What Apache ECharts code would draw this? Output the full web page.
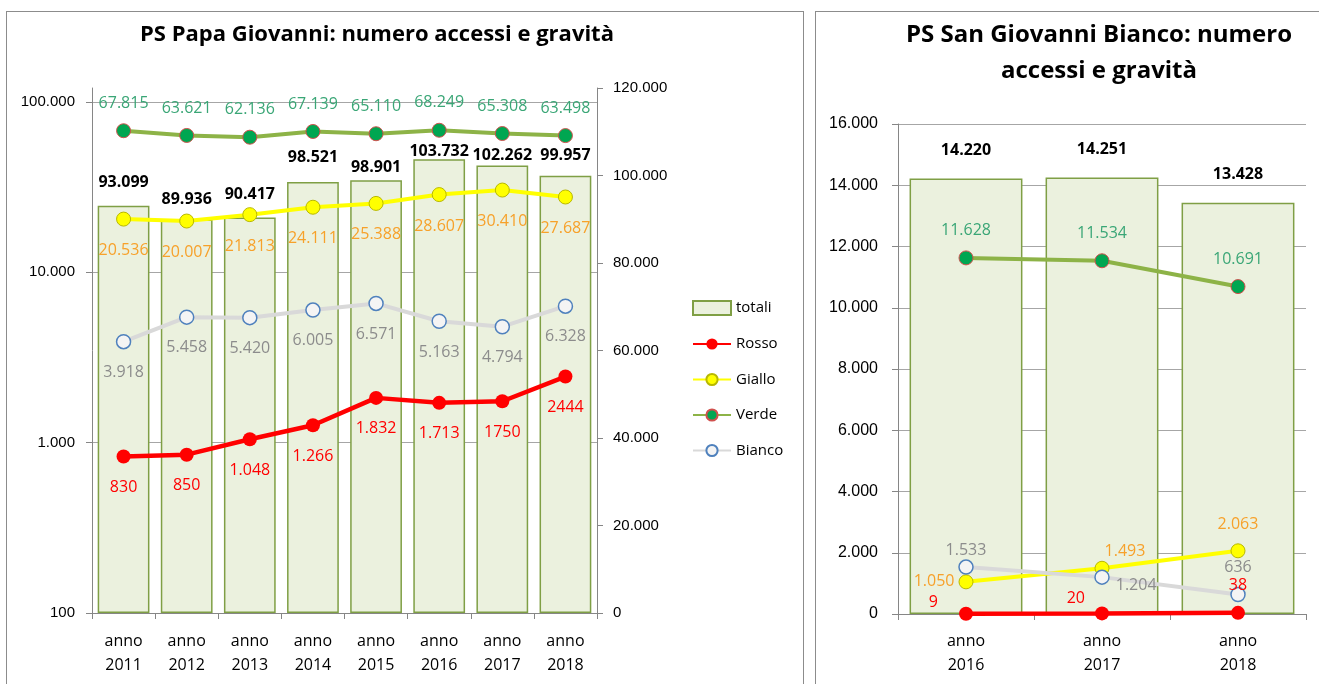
<!DOCTYPE html>
<html>
<head>
<meta charset="utf-8">
<title>Accessi PS</title>
<script src="https://cdn.jsdelivr.net/npm/echarts@6/dist/echarts.min.js"></script>
<style>
  html, body { margin: 0; padding: 0; background: #fff; overflow: hidden; }
  body { width: 1319px; height: 684px; position: relative; }
  .panel { position: absolute; border: 1px solid #8c8c8c; background: #fff; }
  #left { left: 6px; top: 11px; width: 796px; height: 700px; }
  #right { left: 815px; top: 11px; width: 540px; height: 700px; }
  .chart { position: absolute; left: 0; top: 0; width: 100%; height: 100%; }
</style>
</head>
<body>
<div class="panel" id="left"><div class="chart" id="chartPapa"></div></div>
<div class="panel" id="right"><div class="chart" id="chartSgb"></div></div>
<script>
// PS Papa Giovanni 2011-2018
var papaCategories = ['anno 2011', 'anno 2012', 'anno 2013', 'anno 2014', 'anno 2015', 'anno 2016', 'anno 2017', 'anno 2018']
var papaTotali = [93099, 89936, 90417, 98521, 98901, 103732, 102262, 99957]
var papaRosso = [830, 850, 1048, 1266, 1832, 1713, 1750, 2444]
var papaRossoText = ['830', '850', '1.048', '1.266', '1.832', '1.713', '1750', '2444']
var papaGiallo = [20536, 20007, 21813, 24111, 25388, 28607, 30410, 27687]
var papaVerde = [67815, 63621, 62136, 67139, 65110, 68249, 65308, 63498]
var papaBianco = [3918, 5458, 5420, 6005, 6571, 5163, 4794, 6328]
var papaLogTicks = [100, 1000, 10000, 100000]
var papaRightTicks = [0, 20000, 40000, 60000, 80000, 100000, 120000]

// PS San Giovanni Bianco 2016-2018
var sgbCategories = ['anno 2016', 'anno 2017', 'anno 2018']
var sgbTotali = [14220, 14251, 13428]
var sgbRosso = [9, 20, 38]
var sgbGiallo = [1050, 1493, 2063]
var sgbVerde = [11628, 11534, 10691]
var sgbBianco = [1533, 1204, 636]
var sgbTicks = [0, 2000, 4000, 6000, 8000, 10000, 12000, 14000, 16000]

var FONT = 'Open Sans'
var AXIS_FONT = 'Liberation Sans'
var GRID_COLOR = '#a6a6a6'
var AXIS_COLOR = '#868686'

function fmt(v) {
  return String(v).replace(/\B(?=(\d{3})+(?!\d))/g, '.')
}

function catAxis(gridIndex, data, margin) {
  return {
    type: 'category',
    gridIndex: gridIndex,
    data: data,
    axisLine: { lineStyle: { color: AXIS_COLOR, width: 1 } },
    axisTick: { show: true, length: 6, lineStyle: { color: AXIS_COLOR } },
    axisLabel: {
      margin: margin,
      color: '#000',
      fontFamily: FONT,
      fontSize: 16,
      lineHeight: 24,
      formatter: function (v) { return v.replace(' ', '\n') }
    }
  }
}

var lineStyles = {
  Rosso: { line: '#ff0000', width: 4.5, fill: '#ff0000', border: '#ff0000', borderWidth: 0, label: '#ff0000' },
  Giallo: { line: '#ffff00', width: 4, fill: '#ffff00', border: '#b8b800', borderWidth: 1, label: '#f7a12a' },
  Verde: { line: '#8db347', width: 4, fill: '#00a651', border: '#d0504d', borderWidth: 1, label: '#3aa676' },
  Bianco: { line: '#d9d9d9', width: 4, fill: '#f4f4f4', border: '#4f81bd', borderWidth: 1.5, label: '#8c8c8c' }
}

function withTweaks(data, tweaks) {
  return data.map(function (v, i) {
    return tweaks && tweaks[i] ? { value: v, label: tweaks[i] } : v
  })
}

function lineSeries(name, data, xi, yi, labelPos, labelDist, texts, tweaks) {
  var s = lineStyles[name]
  return {
    name: name,
    type: 'line',
    xAxisIndex: xi,
    yAxisIndex: yi,
    symbol: 'circle',
    symbolSize: 14,
    z: 5,
    lineStyle: { color: s.line, width: s.width },
    itemStyle: { color: s.fill, borderColor: s.border, borderWidth: s.borderWidth },
    label: {
      show: true,
      position: labelPos,
      distance: labelDist,
      color: s.label,
      fontFamily: FONT,
      fontSize: 16,
      formatter: function (p) { return texts ? texts[p.dataIndex] : fmt(p.value) }
    },
    data: withTweaks(data, tweaks)
  }
}

function barSeries(data, xi, yi, dist, gap, tweaks) {
  return {
    name: 'totali',
    type: 'bar',
    xAxisIndex: xi,
    yAxisIndex: yi,
    barCategoryGap: gap,
    z: 2,
    itemStyle: { color: '#ebf1de', borderColor: '#7f9f45', borderWidth: 1.5 },
    label: {
      show: true,
      position: 'top',
      distance: dist,
      color: '#000',
      fontFamily: FONT,
      fontWeight: 'bold',
      fontSize: 16,
      formatter: function (p) { return fmt(p.value) }
    },
    data: withTweaks(data, tweaks)
  }
}

// label placement tweaks (Excel labels were moved by hand)
var papaTotaliTweaks = [
  { distance: 15 }, { distance: 12 }, { distance: 15 }, { distance: 17 },
  { distance: 5 }, { distance: 0 }, { distance: 2 }, { distance: 12 }
]

var chartPapa = echarts.init(document.getElementById('chartPapa'), null, { renderer: 'canvas' })
chartPapa.setOption({
  animation: false,
  title: {
    text: 'PS Papa Giovanni: numero accessi e gravità',
    left: 365,
    top: 0,
    textAlign: 'center',
    textStyle: { fontFamily: FONT, fontWeight: 'bold', fontSize: 22, color: '#000', lineHeight: 36 }
  },
  legend: {
    orient: 'vertical',
    left: 680,
    top: 283,
    itemWidth: 38,
    itemHeight: 14,
    itemGap: 20.5,
    itemTextGap: 5,
    textStyle: { fontFamily: FONT, fontSize: 15, color: '#000' },
    data: [{ name: 'totali', icon: 'rect' }, 'Rosso', 'Giallo', 'Verde', 'Bianco']
  },
  grid: [
    // lines, log scale 100 .. 100.000
    { left: 85, top: 90, width: 505, height: 511, outerBoundsMode: 'none' },
    // bars, secondary axis 0 .. 120.000
    { left: 85, top: 76, width: 505, height: 525, outerBoundsMode: 'none' }
  ],
  xAxis: [
    { type: 'category', gridIndex: 0, data: papaCategories, show: false },
    catAxis(1, papaCategories, 16)
  ],
  yAxis: [
    {
      type: 'log',
      logBase: 10,
      gridIndex: 0,
      min: papaLogTicks[0],
      max: papaLogTicks[papaLogTicks.length - 1],
      position: 'left',
      axisLine: { show: false },
      axisTick: { show: true, length: 6, lineStyle: { color: AXIS_COLOR } },
      axisLabel: { margin: 17, color: '#000', fontFamily: AXIS_FONT, fontSize: 15, formatter: fmt },
      splitLine: { show: true, lineStyle: { color: GRID_COLOR, width: 1 } }
    },
    {
      type: 'value',
      gridIndex: 1,
      min: 0,
      max: papaRightTicks[papaRightTicks.length - 1],
      position: 'left',
      axisLine: { show: true, lineStyle: { color: AXIS_COLOR } },
      axisTick: { show: false },
      axisLabel: { show: false },
      splitLine: { show: false }
    },
    {
      type: 'value',
      gridIndex: 1,
      min: papaRightTicks[0],
      max: papaRightTicks[papaRightTicks.length - 1],
      interval: papaRightTicks[1] - papaRightTicks[0],
      position: 'right',
      axisLine: { show: true, lineStyle: { color: AXIS_COLOR } },
      axisTick: { show: true, length: 6, lineStyle: { color: AXIS_COLOR } },
      axisLabel: { margin: 16, color: '#000', fontFamily: AXIS_FONT, fontSize: 15, formatter: fmt },
      splitLine: { show: false }
    }
  ],
  series: [
    barSeries(papaTotali, 1, 2, 12, '18%', papaTotaliTweaks),
    lineSeries('Rosso', papaRosso, 0, 0, 'bottom', 16, papaRossoText),
    lineSeries('Giallo', papaGiallo, 0, 0, 'bottom', 16),
    lineSeries('Verde', papaVerde, 0, 0, 'top', 12),
    lineSeries('Bianco', papaBianco, 0, 0, 'bottom', 15)
  ]
})

var sgbLabelTweaks = {
  Rosso: [
    { position: 'left', distance: 21, offset: [0, -11] },
    { position: 'left', distance: 10, offset: [0, -15] },
    { position: 'top', distance: 12 }
  ],
  Giallo: [
    { position: 'left', distance: 4 },
    { position: 'top', distance: 1, offset: [23, 0] },
    { position: 'top', distance: 11 }
  ],
  Bianco: [
    { position: 'top', distance: 1 },
    { position: 'right', distance: 6, offset: [0, 8] },
    { position: 'top', distance: 11 }
  ]
}

var chartSgb = echarts.init(document.getElementById('chartSgb'), null, { renderer: 'canvas' })
chartSgb.setOption({
  animation: false,
  title: {
    text: 'PS San Giovanni Bianco: numero\naccessi e gravità',
    left: 278,
    top: 0,
    textAlign: 'center',
    textStyle: { fontFamily: FONT, fontWeight: 'bold', fontSize: 24, color: '#000', lineHeight: 36 }
  },
  grid: { left: 82, top: 112, width: 408, height: 490, outerBoundsMode: 'none' },
  xAxis: catAxis(0, sgbCategories, 15),
  yAxis: {
    type: 'value',
    min: sgbTicks[0],
    max: sgbTicks[sgbTicks.length - 1],
    interval: sgbTicks[1] - sgbTicks[0],
    axisLine: { show: true, lineStyle: { color: AXIS_COLOR } },
    axisTick: { show: true, length: 6, lineStyle: { color: AXIS_COLOR } },
    axisLabel: { margin: 20, color: '#000', fontFamily: AXIS_FONT, fontSize: 16, formatter: fmt },
    splitLine: { show: true, lineStyle: { color: GRID_COLOR, width: 1 } }
  },
  series: [
    barSeries(sgbTotali, 0, 0, 20, '17%'),
    lineSeries('Rosso', sgbRosso, 0, 0, 'top', 12, null, sgbLabelTweaks.Rosso),
    lineSeries('Giallo', sgbGiallo, 0, 0, 'top', 11, null, sgbLabelTweaks.Giallo),
    lineSeries('Verde', sgbVerde, 0, 0, 'top', 12),
    lineSeries('Bianco', sgbBianco, 0, 0, 'top', 11, null, sgbLabelTweaks.Bianco)
  ]
})
</script>
</body>
</html>
